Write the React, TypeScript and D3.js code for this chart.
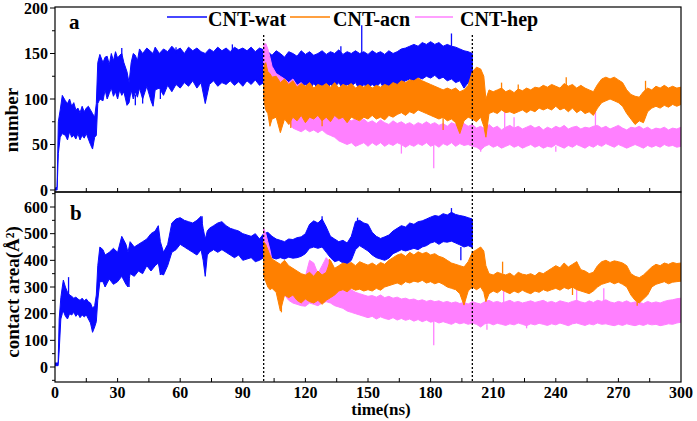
import React from "react";
import * as d3 from "d3";

// ---------- data (time in ns; [t, low, high] envelope) ----------
const timeTicks = [0, 30, 60, 90, 120, 150, 180, 210, 240, 270, 300];
const numberTicks = [0, 50, 100, 150, 200];
const areaTicks = [0, 100, 200, 300, 400, 500, 600];
const markerTimes = [100, 200];
const seriesNames = ["CNT-wat", "CNT-acn", "CNT-hep"];
const seriesColors = ["#0a0aff", "#ff8000", "#ff80ff"];

// panel a: number
const watNumber: number[][] = [
  [0, 0, 2], [1, 0, 3], [1.6, 40, 75], [2.5, 58, 88], [3.5, 62, 104], [5, 60, 98], [6, 55, 95], [7, 64, 100],
  [8, 58, 92], [9, 60, 96], [10, 56, 88], [11, 62, 90], [12, 55, 85], [13, 60, 92], [14, 57, 86], [15, 62, 90],
  [16, 56, 92], [17, 50, 88], [18, 45, 84], [19, 58, 80], [19.8, 60, 95], [20.5, 95, 140], [21.5, 100, 149],
  [23, 98, 140], [24, 110, 146], [25, 100, 147], [26, 106, 138], [27, 112, 150], [28, 103, 142], [29, 108, 152],
  [30, 100, 145], [31, 110, 148], [32, 104, 150], [33, 108, 140], [34.5, 93, 130], [35.5, 96, 118], [36.5, 110, 140],
  [37.5, 100, 150], [38.5, 108, 148], [39.5, 102, 142], [40.5, 112, 155], [42, 100, 150], [44, 114, 156],
  [46, 98, 152], [47, 92, 150], [48, 110, 157], [50, 112, 150], [52, 104, 155], [54, 115, 152], [56, 108, 158],
  [58, 116, 153], [60, 112, 156], [62, 118, 150], [64, 114, 157], [66, 120, 153], [68, 112, 156], [70, 118, 152],
  [72, 95, 150], [74, 116, 155], [76, 120, 152], [78, 114, 157], [80, 118, 153], [82, 116, 156], [84, 120, 152],
  [86, 115, 157], [88, 119, 154], [90, 114, 156], [92, 120, 153], [94, 116, 157], [96, 121, 152], [98, 115, 156],
  [100, 118, 154], [102, 115, 152], [104, 112, 148], [106, 118, 153], [108, 110, 150], [110, 116, 146],
  [112, 112, 152], [114, 118, 150], [116, 108, 147], [118, 114, 153], [120, 116, 149], [122, 110, 152],
  [124, 117, 148], [126, 112, 150], [128, 115, 153], [130, 110, 149], [132, 116, 152], [134, 113, 150],
  [136, 118, 154], [138, 111, 149], [140, 116, 152], [142, 114, 150], [144, 118, 153], [146, 110, 150],
  [148, 116, 152], [150, 112, 149], [152, 116, 153], [154, 113, 150], [156, 118, 152], [158, 110, 149],
  [160, 115, 153], [162, 108, 150], [164, 106, 152], [166, 116, 155], [168, 120, 156], [170, 122, 158],
  [172, 118, 160], [174, 124, 158], [176, 122, 162], [178, 125, 160], [180, 123, 163], [182, 126, 160],
  [184, 122, 162], [186, 124, 158], [188, 120, 160], [190, 122, 158], [192, 118, 157], [194, 120, 155],
  [196, 112, 153], [198, 118, 152], [200, 120, 150],
];
const acnNumber: number[][] = [
  [100, 100, 135], [101, 88, 140], [102, 84, 130], [103, 70, 128], [104, 78, 124], [106, 80, 125], [108, 63, 118],
  [110, 78, 122], [112, 72, 116], [114, 80, 120], [116, 76, 113], [118, 82, 117], [120, 74, 114], [122, 80, 118],
  [124, 78, 112], [126, 82, 116], [128, 76, 114], [130, 80, 117], [132, 75, 113], [134, 82, 118], [136, 78, 112],
  [138, 80, 116], [140, 74, 114], [142, 80, 117], [144, 78, 112], [146, 76, 115], [148, 80, 113], [150, 78, 116],
  [152, 82, 112], [154, 78, 115], [156, 80, 113], [158, 77, 116], [160, 82, 114], [162, 80, 118], [164, 83, 116],
  [166, 85, 120], [168, 82, 118], [170, 86, 121], [172, 84, 120], [174, 88, 123], [176, 86, 120], [178, 84, 118],
  [180, 82, 116], [182, 80, 114], [184, 78, 112], [186, 80, 110], [188, 76, 112], [190, 78, 110], [192, 74, 112],
  [194, 62, 108], [196, 76, 110], [198, 80, 115], [200, 78, 130], [202, 75, 135], [204, 80, 133], [205.5, 70, 125],
  [206.5, 58, 100], [208, 84, 110], [210, 86, 108], [212, 84, 110], [214, 88, 112], [216, 85, 108], [218, 86, 110],
  [220, 84, 107], [222, 86, 111], [224, 88, 109], [226, 85, 112], [228, 88, 110], [230, 86, 113], [232, 90, 112],
  [234, 88, 115], [236, 90, 113], [238, 88, 116], [240, 92, 114], [242, 88, 112], [244, 90, 117], [246, 86, 114],
  [248, 90, 116], [250, 85, 112], [252, 88, 115], [254, 84, 112], [256, 86, 110], [258, 82, 108], [260, 90, 116],
  [262, 96, 122], [264, 98, 124], [266, 100, 122], [268, 98, 124], [270, 96, 121], [272, 92, 118], [274, 84, 110],
  [276, 78, 105], [278, 72, 103], [280, 76, 102], [282, 74, 108], [284, 86, 112], [286, 90, 110], [288, 92, 114],
  [290, 90, 112], [292, 93, 115], [294, 91, 112], [296, 94, 114], [298, 92, 112], [300, 94, 113],
];
const hepNumber: number[][] = [
  [100, 122, 159], [101, 126, 161], [102, 118, 155], [103, 108, 146], [104, 100, 136], [106, 92, 128], [108, 86, 125],
  [110, 80, 122], [112, 74, 118], [114, 68, 122], [116, 66, 115], [118, 64, 118], [120, 67, 112], [122, 64, 110],
  [124, 66, 112], [126, 63, 108], [128, 66, 106], [130, 62, 102], [132, 60, 96], [134, 58, 90], [136, 54, 84],
  [138, 52, 80], [140, 50, 78], [142, 52, 76], [144, 48, 78], [146, 50, 75], [148, 52, 78], [150, 48, 74],
  [152, 52, 76], [154, 49, 73], [156, 52, 77], [158, 48, 74], [160, 51, 72], [162, 49, 76], [164, 52, 73],
  [166, 50, 75], [168, 47, 72], [170, 50, 74], [172, 48, 71], [174, 51, 74], [176, 49, 72], [178, 52, 75],
  [180, 48, 72], [182, 50, 74], [184, 47, 71], [186, 51, 73], [188, 49, 70], [190, 52, 74], [192, 48, 72],
  [194, 51, 71], [196, 49, 73], [198, 50, 70], [200, 48, 72], [202, 47, 68], [204, 44, 70], [206, 48, 67],
  [208, 50, 72], [210, 47, 68], [212, 49, 70], [214, 46, 66], [216, 48, 69], [218, 50, 71], [220, 47, 68],
  [222, 49, 70], [224, 46, 67], [226, 48, 69], [228, 50, 71], [230, 47, 68], [232, 49, 70], [234, 46, 66],
  [236, 48, 69], [238, 47, 67], [240, 50, 70], [242, 48, 68], [244, 46, 71], [246, 49, 67], [248, 47, 69],
  [250, 50, 70], [252, 48, 67], [254, 46, 69], [256, 49, 68], [258, 47, 70], [260, 50, 71], [262, 48, 68],
  [264, 51, 70], [266, 49, 67], [268, 47, 69], [270, 50, 71], [272, 48, 68], [274, 46, 66], [276, 48, 69],
  [278, 50, 68], [280, 48, 70], [282, 46, 67], [284, 49, 69], [286, 47, 66], [288, 49, 68], [290, 47, 67],
  [292, 50, 69], [294, 48, 66], [296, 49, 68], [298, 47, 67], [300, 48, 69],
];
// isolated excursions [t, from, to]
const watNumberSpikes: number[][] = [
  [147, 150, 181], [190, 158, 172], [164.5, 110, 100], [38.5, 105, 93], [42, 105, 95], [50.5, 110, 100],
  [32, 148, 156], [85, 150, 160], [58, 150, 157], [137, 150, 158],
];
const acnNumberSpikes: number[][] = [
  [214, 110, 118], [245, 114, 124], [283, 108, 120], [222, 107, 116], [113, 80, 68], [128, 78, 70], [186, 80, 66],
];
const hepNumberSpikes: number[][] = [
  [181.5, 50, 24], [215.5, 68, 88], [259, 68, 86], [204, 48, 42], [220, 68, 80], [166, 50, 40], [240, 48, 42],
];

// panel b: contact area (Å²)
const watArea: number[][] = [
  [0, 5, 15], [1.5, 5, 15], [2, 60, 180], [2.8, 180, 260], [3.5, 200, 300], [4, 210, 326], [5, 190, 300],
  [6, 180, 280], [7, 200, 270], [8, 195, 265], [9, 205, 258], [10, 190, 262], [11, 200, 255], [12, 185, 250],
  [13, 195, 258], [14, 188, 248], [15, 195, 255], [16, 180, 245], [17, 165, 240], [18, 130, 220], [19, 150, 230],
  [19.8, 170, 270], [20.5, 250, 380], [21.5, 320, 450], [23, 320, 440], [24, 300, 420], [26, 330, 430],
  [28, 310, 445], [30, 320, 430], [32, 340, 490], [34, 310, 460], [35, 300, 430], [36, 350, 470], [38, 340, 450],
  [40, 360, 460], [42, 350, 470], [44, 380, 480], [46, 360, 500], [48, 380, 510], [49.5, 390, 530],
  [50.5, 350, 470], [52, 345, 430], [54, 380, 460], [56, 430, 540], [58, 440, 555], [60, 460, 560],
  [62, 450, 550], [64, 440, 545], [66, 430, 540], [68, 420, 550], [70, 440, 565], [71, 400, 520], [72, 340, 480],
  [73, 420, 510], [74, 430, 520], [76, 440, 530], [78, 430, 540], [80, 440, 545], [82, 430, 530], [84, 420, 520],
  [86, 410, 515], [88, 420, 510], [90, 400, 500], [92, 405, 495], [94, 410, 490], [96, 395, 500], [98, 400, 480],
  [100, 410, 500], [102, 420, 505], [104, 410, 490], [106, 405, 480], [108, 410, 475], [110, 405, 470],
  [112, 412, 480], [114, 408, 478], [116, 410, 485], [118, 415, 488], [120, 425, 500], [122, 445, 535],
  [124, 450, 548], [126, 445, 540], [128, 450, 555], [130, 430, 525], [132, 410, 490], [134, 395, 480],
  [136, 400, 470], [138, 390, 475], [140, 385, 465], [142, 400, 490], [144, 440, 545], [146, 455, 550],
  [148, 445, 540], [150, 435, 535], [152, 420, 505], [154, 410, 490], [156, 405, 482], [158, 400, 488],
  [160, 408, 495], [162, 425, 510], [164, 432, 520], [166, 440, 530], [168, 435, 525], [170, 440, 540],
  [172, 445, 535], [174, 440, 545], [176, 450, 548], [178, 455, 555], [180, 465, 562], [182, 470, 568],
  [184, 460, 565], [186, 470, 575], [188, 468, 570], [190, 472, 580], [192, 465, 572], [194, 458, 568],
  [196, 450, 565], [198, 455, 560], [200, 448, 555],
];
const acnArea: number[][] = [
  [100, 340, 470], [101, 320, 460], [102, 300, 440], [103, 290, 420], [104, 295, 405], [106, 280, 395],
  [108, 210, 385], [110, 270, 400], [112, 260, 380], [114, 270, 370], [116, 250, 360], [118, 240, 350],
  [120, 255, 345], [122, 245, 355], [124, 240, 340], [126, 250, 360], [128, 235, 345], [130, 250, 355],
  [132, 260, 400], [134, 270, 370], [136, 285, 380], [138, 290, 390], [140, 282, 385], [142, 295, 392],
  [144, 288, 380], [146, 292, 395], [148, 285, 388], [150, 290, 382], [152, 285, 390], [154, 295, 380],
  [156, 288, 392], [158, 300, 385], [160, 305, 400], [162, 310, 410], [164, 315, 420], [166, 308, 425],
  [168, 320, 415], [170, 315, 430], [172, 322, 420], [174, 318, 432], [176, 325, 425], [178, 315, 430],
  [180, 320, 420], [182, 312, 425], [184, 318, 415], [186, 310, 410], [188, 300, 400], [190, 295, 390],
  [192, 290, 385], [194, 275, 380], [196, 232, 375], [198, 285, 395], [200, 300, 430], [202, 290, 440],
  [204, 300, 450], [205.5, 280, 435], [206.5, 245, 380], [208, 275, 350], [210, 285, 345], [212, 278, 355],
  [214, 290, 350], [216, 282, 345], [218, 275, 352], [220, 285, 340], [222, 278, 355], [224, 288, 348],
  [226, 280, 345], [228, 275, 350], [230, 285, 342], [232, 280, 355], [234, 290, 350], [236, 284, 360],
  [238, 290, 370], [240, 295, 380], [242, 288, 372], [244, 298, 390], [246, 292, 375], [248, 300, 385],
  [250, 290, 395], [252, 285, 365], [254, 280, 360], [256, 275, 350], [258, 285, 355], [260, 300, 380],
  [262, 310, 395], [264, 315, 400], [266, 320, 392], [268, 312, 398], [270, 318, 395], [272, 310, 390],
  [274, 300, 380], [276, 270, 350], [278, 250, 340], [280, 240, 335], [282, 255, 345], [284, 270, 360],
  [286, 300, 375], [288, 310, 385], [290, 315, 380], [292, 320, 390], [294, 312, 385], [296, 318, 392],
  [298, 320, 388], [300, 322, 390],
];
const hepArea: number[][] = [
  [100, 440, 520], [101, 400, 500], [102, 380, 470], [103, 350, 440], [104, 330, 400], [106, 310, 370],
  [108, 290, 360], [110, 270, 350], [112, 250, 340], [114, 240, 330], [116, 235, 325], [118, 230, 320],
  [120, 228, 340], [122, 240, 400], [124, 235, 390], [126, 230, 350], [128, 240, 380], [130, 245, 410],
  [132, 240, 390], [134, 230, 330], [136, 225, 320], [138, 220, 310], [140, 210, 300], [142, 205, 290],
  [144, 200, 280], [146, 195, 275], [148, 190, 270], [150, 185, 265], [152, 190, 268], [154, 180, 262],
  [156, 188, 270], [158, 182, 260], [160, 178, 265], [162, 185, 258], [164, 176, 262], [166, 182, 255],
  [168, 175, 258], [170, 180, 252], [172, 172, 255], [174, 178, 248], [176, 170, 252], [178, 176, 246],
  [180, 168, 250], [182, 172, 245], [184, 165, 248], [186, 170, 242], [188, 165, 246], [190, 160, 240],
  [192, 168, 244], [194, 162, 238], [196, 166, 242], [198, 160, 236], [200, 165, 245], [202, 160, 240],
  [204, 150, 236], [206, 162, 245], [208, 165, 250], [210, 158, 242], [212, 164, 246], [214, 160, 240],
  [216, 156, 245], [218, 162, 250], [220, 158, 242], [222, 165, 246], [224, 160, 240], [226, 155, 244],
  [228, 162, 248], [230, 158, 242], [232, 164, 246], [234, 160, 250], [236, 156, 242], [238, 162, 246],
  [240, 158, 240], [242, 165, 248], [244, 160, 244], [246, 155, 240], [248, 162, 246], [250, 165, 250],
  [252, 160, 244], [254, 156, 240], [256, 162, 248], [258, 158, 242], [260, 165, 250], [262, 160, 246],
  [264, 162, 252], [266, 158, 244], [268, 155, 240], [270, 160, 246], [272, 156, 242], [274, 162, 248],
  [276, 158, 240], [278, 155, 244], [280, 160, 242], [282, 156, 238], [284, 162, 246], [286, 158, 240],
  [288, 160, 244], [290, 155, 240], [292, 158, 246], [294, 162, 250], [296, 160, 252], [298, 165, 256],
  [300, 168, 258],
];
const watAreaSpikes: number[][] = [
  [6.5, 260, 337], [190, 560, 596], [194.5, 450, 400], [70.5, 540, 565], [35.5, 330, 300], [50.5, 380, 345],
  [128, 540, 565], [145, 540, 560],
];
const acnAreaSpikes: number[][] = [
  [214.5, 350, 395], [131.5, 350, 405], [250, 380, 395], [108.5, 260, 205], [248, 300, 270], [279, 250, 230],
];
const hepAreaSpikes: number[][] = [
  [181.5, 170, 82], [215, 240, 290], [250, 245, 300], [263, 245, 295], [207, 160, 140], [226, 160, 145],
];

// ---------- layout ----------
const W = 697;
const H = 421;
const LEFT = 55;
const RIGHT = 681;
const A_TOP = 7;
const A_BOT = 192;
const B_BOT = 382;
const FONT = "'Liberation Serif', 'Times New Roman', serif";

const x = d3.scaleLinear().domain([0, 300]).range([LEFT, RIGHT]);
const yA = d3.scaleLinear().domain([0, 200]).range([190, 8]);
const yB = d3.scaleLinear().domain([0, 600]).range([367, 207]);

function band(y: d3.ScaleLinear<number, number>) {
  return d3
    .area<number[]>()
    .x((d) => x(d[0]))
    .y0((d) => y(d[1]))
    .y1((d) => y(d[2]));
}

function Series({ data, spikes, y, color }: { data: number[][]; spikes: number[][]; y: any; color: string }) {
  const path = band(y)(data) || "";
  return (
    <g>
      <path d={path} fill={color} stroke={color} strokeWidth={1} strokeLinejoin="miter" />
      {spikes.map((s, i) => (
        <line key={i} x1={x(s[0])} x2={x(s[0])} y1={y(s[1])} y2={y(s[2])} stroke={color} strokeWidth={1.3} />
      ))}
    </g>
  );
}

function YAxis({ y, ticks, step, top, bottom }: { y: any; ticks: number[]; step: number; top: number; bottom: number }) {
  const minors: number[] = ticks.map((t) => t + step / 2).concat([ticks[0] - step / 2]);
  return (
    <g>
      {ticks.map((t) => (
        <g key={t}>
          <line x1={LEFT - 5} x2={LEFT} y1={y(t)} y2={y(t)} stroke="#000" strokeWidth={1} />
          <text x={LEFT - 7} y={y(t)} dy="0.35em" textAnchor="end" fontFamily={FONT} fontWeight="bold" fontSize={16}>
            {t}
          </text>
        </g>
      ))}
      {minors
        .filter((v) => y(v) < bottom - 1 && y(v) > top + 1)
        .map((v) => (
          <line key={"m" + v} x1={LEFT - 3} x2={LEFT} y1={y(v)} y2={y(v)} stroke="#000" strokeWidth={1} />
        ))}
    </g>
  );
}

function XTicks({ yPos }: { yPos: number }) {
  const all = d3.range(15, 300, 15);
  return (
    <g>
      {all.map((t) => (
        <line key={t} x1={x(t)} x2={x(t)} y1={yPos} y2={yPos - 4} stroke="#000" strokeWidth={1} />
      ))}
    </g>
  );
}

export default function App() {
  const legendX = [167, 290, 415];
  const legendTextX = [208, 333, 460];
  return (
    <svg
      width={W}
      height={H}
      viewBox={`0 0 ${W} ${H}`}
      style={{ position: "absolute", left: 0, top: 0, background: "#fff" }}
    >
      <rect x={0} y={0} width={W} height={H} fill="#fff" />
      <defs>
        <clipPath id="clipA">
          <rect x={LEFT} y={A_TOP} width={RIGHT - LEFT} height={A_BOT - A_TOP} />
        </clipPath>
        <clipPath id="clipB">
          <rect x={LEFT} y={A_BOT} width={RIGHT - LEFT} height={B_BOT - A_BOT} />
        </clipPath>
      </defs>

      {/* panel a data: wat underneath, hep in the middle, acn on top */}
      <g clipPath="url(#clipA)">
        <Series data={watNumber} spikes={watNumberSpikes} y={yA} color={seriesColors[0]} />
        <Series data={hepNumber} spikes={hepNumberSpikes} y={yA} color={seriesColors[2]} />
        <Series data={acnNumber} spikes={acnNumberSpikes} y={yA} color={seriesColors[1]} />
      </g>
      {/* panel b data */}
      <g clipPath="url(#clipB)">
        <Series data={watArea} spikes={watAreaSpikes} y={yB} color={seriesColors[0]} />
        <Series data={hepArea} spikes={hepAreaSpikes} y={yB} color={seriesColors[2]} />
        <Series data={acnArea} spikes={acnAreaSpikes} y={yB} color={seriesColors[1]} />
      </g>

      {/* dotted markers */}
      {markerTimes.map((t) => (
        <line
          key={t}
          x1={x(t)}
          x2={x(t)}
          y1={A_TOP + 28}
          y2={B_BOT}
          stroke="#000"
          strokeWidth={1.3}
          strokeDasharray="2,2"
        />
      ))}

      {/* frames */}
      <rect x={LEFT} y={A_TOP} width={RIGHT - LEFT} height={A_BOT - A_TOP} fill="none" stroke="#000" strokeWidth={1.2} />
      <rect x={LEFT} y={A_BOT} width={RIGHT - LEFT} height={B_BOT - A_BOT} fill="none" stroke="#000" strokeWidth={1.2} />

      <XTicks yPos={A_BOT} />
      <XTicks yPos={B_BOT} />
      <YAxis y={yA} ticks={numberTicks} step={50} top={A_TOP} bottom={A_BOT} />
      <YAxis y={yB} ticks={areaTicks} step={100} top={A_BOT} bottom={B_BOT} />

      {/* x tick labels */}
      {timeTicks.map((t) => (
        <text key={t} x={x(t)} y={398} textAnchor="middle" fontFamily={FONT} fontWeight="bold" fontSize={16}>
          {t}
        </text>
      ))}

      {/* axis titles */}
      <text x={381} y={415} textAnchor="middle" fontFamily={FONT} fontWeight="bold" fontSize={17}>
        time(ns)
      </text>
      <text
        transform="translate(18,120) rotate(-90)"
        textAnchor="middle"
        fontFamily={FONT}
        fontWeight="bold"
        fontSize={19}
      >
        number
      </text>
      <text
        transform="translate(19,292) rotate(-90)"
        textAnchor="middle"
        fontFamily={FONT}
        fontWeight="bold"
        fontSize={19}
      >
        contact area(Å²)
      </text>

      {/* panel letters */}
      <text x={69} y={29} fontFamily={FONT} fontWeight="bold" fontSize={21}>
        a
      </text>
      <text x={70} y={220} fontFamily={FONT} fontWeight="bold" fontSize={21}>
        b
      </text>

      {/* legend */}
      {seriesNames.map((name, i) => (
        <g key={name}>
          <line
            x1={legendX[i]}
            x2={legendX[i] + (i === 2 ? 38 : 40)}
            y1={17}
            y2={17}
            stroke={seriesColors[i]}
            strokeWidth={1.6}
          />
          <text x={legendTextX[i]} y={26} fontFamily={FONT} fontWeight="bold" fontSize={20}>
            {name}
          </text>
        </g>
      ))}
    </svg>
  );
}
